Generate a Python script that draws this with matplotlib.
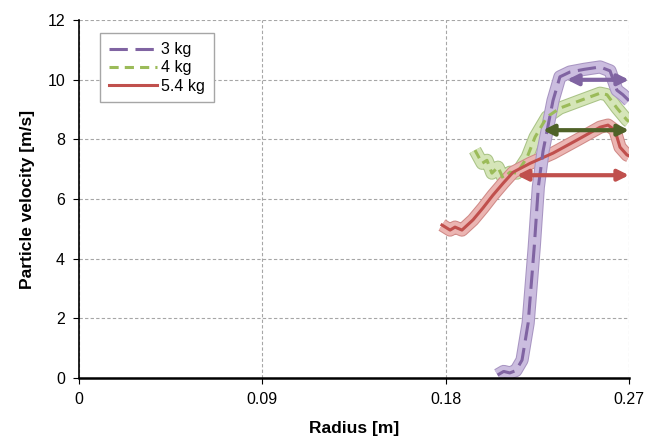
import matplotlib.pyplot as plt
import matplotlib.patheffects as pe

plt.rcParams['font.family'] = ['Liberation Sans', 'DejaVu Sans']

# radius [m] and particle velocity [m/s]
r_3kg = [0.2055, 0.2085, 0.2115, 0.2145, 0.2175, 0.2205, 0.2235, 0.2255, 0.2278,
         0.2327, 0.2361, 0.2410, 0.2480, 0.2558, 0.2607, 0.2641, 0.2670, 0.2700]
v_3kg = [0.10, 0.22, 0.17, 0.25, 0.60, 1.84, 4.40, 6.40, 7.60,
         9.30, 10.10, 10.26, 10.35, 10.43, 10.30, 9.65, 9.50, 9.30]

r_4kg = [0.1944, 0.1979, 0.2003, 0.2027, 0.2057, 0.2082, 0.2116, 0.2150, 0.2200,
         0.2239, 0.2297, 0.2361, 0.2459, 0.2558, 0.2592, 0.2641, 0.2690, 0.2700]
v_4kg = [7.64, 7.20, 7.30, 6.87, 7.07, 6.70, 6.90, 6.87, 7.40,
         8.08, 8.75, 9.05, 9.30, 9.55, 9.50, 9.05, 8.65, 8.60]

r_54kg = [0.1782, 0.1822, 0.1846, 0.1880, 0.1934, 0.1983, 0.2032, 0.2082, 0.2131,
          0.2215, 0.2327, 0.2445, 0.2558, 0.2597, 0.2631, 0.2656, 0.2690, 0.2700]
v_54kg = [5.13, 4.96, 5.06, 4.96, 5.30, 5.70, 6.13, 6.53, 6.90,
          7.20, 7.54, 7.98, 8.41, 8.48, 8.31, 7.74, 7.48, 7.45]

# double arrows: (start radius, end radius, velocity)
arrows = [(0.2396, 0.27, 10.0), (0.2278, 0.27, 8.31), (0.2150, 0.27, 6.80)]
arrow_colors = ['#8064a2', '#4f6228', '#c0504d']

x_ticks = [0, 0.09, 0.18, 0.27]
x_labels = ['0', '0.09', '0.18', '0.27']
y_ticks = [0, 2, 4, 6, 8, 10, 12]

fig = plt.figure(figsize=(6.66, 4.38), dpi=100)
ax = fig.add_axes([0.1186, 0.137, 0.8258, 0.817])

series = [
    (r_4kg, v_4kg, '#9bbb59', '#d5e5b8', '#a9c386', (0, (3, 2)), '4 kg'),
    (r_54kg, v_54kg, '#c0504d', '#ebb5b2', '#d08a87', '-', '5.4 kg'),
    (r_3kg, v_3kg, '#8064a2', '#cbbddf', '#a895c2', (0, (6, 2.5)), '3 kg'),
]
handles = {}
for r, v, col, band, edge, ls, lab in series:
    ax.plot(r, v, color=band, lw=8, solid_capstyle='butt', zorder=2,
            path_effects=[pe.Stroke(linewidth=9.5, foreground=edge), pe.Normal()])
    ln, = ax.plot(r, v, color=col, lw=2.2, ls=ls, zorder=3, label=lab)
    handles[lab] = ln

for (x0, x1, y), c in zip(arrows, arrow_colors):
    ax.annotate('', xy=(x1, y), xytext=(x0, y), annotation_clip=False,
                arrowprops=dict(arrowstyle='<|-|>', color=c, lw=3,
                                mutation_scale=16, shrinkA=0, shrinkB=0), zorder=4)

ax.set_xlim(0, 0.27)
ax.set_ylim(0, 12)
ax.set_xticks(x_ticks)
ax.set_xticklabels(x_labels)
ax.set_yticks(y_ticks)
ax.grid(True, ls=(0, (3, 2)), color='#a6a6a6', lw=0.8)
ax.set_axisbelow(True)
for s in ['top', 'right']:
    ax.spines[s].set_visible(False)
ax.spines['left'].set_linewidth(1.2)
ax.spines['bottom'].set_linewidth(1.8)
ax.tick_params(labelsize=11.5, direction='out', length=4, pad=6)
ax.set_xlabel('Radius [m]', fontsize=12.5, fontweight='bold', labelpad=10)
ax.set_ylabel('Particle velocity [m/s]', fontsize=12.5, fontweight='bold', labelpad=9)

leg = ax.legend([handles['3 kg'], handles['4 kg'], handles['5.4 kg']],
                ['3 kg', '4 kg', '5.4 kg'], loc='upper left',
                bbox_to_anchor=(0.038, 0.963), fontsize=11.5, frameon=True,
                fancybox=False, edgecolor='#a6a6a6', framealpha=1,
                handlelength=3.0, handletextpad=0.3, borderpad=0.55,
                labelspacing=0.2, borderaxespad=0)
leg.get_frame().set_linewidth(1.0)

fig.savefig('out.png', dpi=100)
